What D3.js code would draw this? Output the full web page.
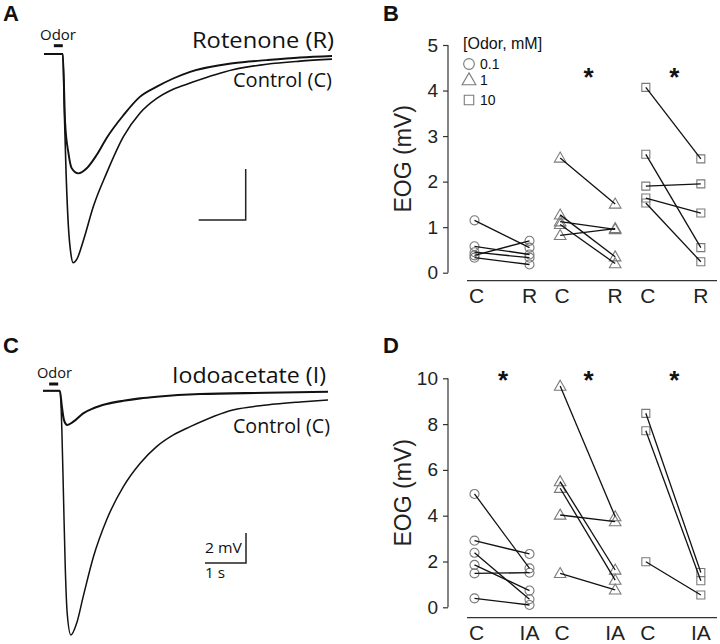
<!DOCTYPE html>
<html><head><meta charset="utf-8">
<script src="https://cdn.jsdelivr.net/npm/d3@7"></script>
<style>body{margin:0;background:#fff}svg{display:block}</style>
</head><body>
<svg id="fig" width="720" height="644"></svg>
<script>
// ---------- DATA ----------
// Panel A traces: [time (s), EOG (mV)]
const traceA_control = [[0,0],[0.40,0],[0.43,-1.03],[0.47,-2.33],[0.52,-3.39],[0.57,-3.90],[0.62,-4.09],[0.70,-4.02],[0.84,-3.65],[1.05,-2.99],[1.33,-2.34],[1.69,-1.62],[2.04,-1.16],[2.40,-0.87],[2.75,-0.69],[3.11,-0.57],[4.02,-0.31],[4.74,-0.20],[5.45,-0.14],[6.13,-0.10]];
const traceA_rotenone = [[0,0],[0.40,0],[0.45,-1.35],[0.52,-1.94],[0.59,-2.24],[0.73,-2.34],[0.91,-2.24],[1.12,-1.98],[1.33,-1.65],[1.69,-1.20],[2.04,-0.84],[2.40,-0.64],[2.75,-0.48],[3.11,-0.35],[4.02,-0.18],[4.74,-0.12],[5.45,-0.07],[6.13,-0.04]];
// Panel C traces
const traceC_control = [[0,0],[0.41,0],[0.46,-2.62],[0.50,-7.07],[0.54,-11.51],[0.59,-14.84],[0.68,-16.29],[0.82,-15.51],[0.98,-13.73],[1.23,-11.07],[1.55,-8.62],[1.96,-6.40],[2.37,-4.84],[2.77,-3.73],[3.18,-2.95],[3.59,-2.40],[4.63,-1.29],[5.46,-0.95],[6.27,-0.75],[6.95,-0.62]];
const traceC_iodo = [[0,0],[0.41,0],[0.46,-1.07],[0.51,-1.95],[0.59,-2.29],[0.74,-2.07],[0.98,-1.51],[1.23,-1.17],[1.55,-0.89],[1.96,-0.67],[2.37,-0.51],[2.77,-0.40],[3.83,-0.22],[5.46,-0.14],[6.95,-0.07]];
const odorA = [0.21, 0.40];
const odorC = [0.15, 0.37];

// Panel B: paired EOG (mV), control vs rotenone, per odor concentration
const concentrations = ["0.1", "1", "10"];
const B_control  = [[1.15,0.58,0.45,0.38,0.33],[2.52,1.27,1.12,1.06,0.82],[4.07,2.6,1.9,1.64,1.53]];
const B_rotenone = [[0.55,0.40,0.33,0.70,0.18],[1.51,0.35,0.95,0.20,0.97],[2.50,0.55,1.95,1.31,0.24]];
const B_ticks = [0,1,2,3,4,5];
const B_labels = ["C","R"];
const B_sig = [false,true,true];

// Panel D: paired EOG (mV), control vs iodoacetate
const D_control = [[4.95,2.91,2.38,1.85,1.48,0.39],[9.66,5.49,5.2,4.03,1.48],[8.47,7.71,1.99]];
const D_iodo    = [[1.70,2.33,0.35,0.73,1.51,0.10],[3.96,1.63,1.19,3.74,0.76],[1.52,1.16,0.54]];
const D_ticks = [0,2,4,6,8,10];
const D_labels = ["C","IA"];
const D_sig = [true,true,true];

// ---------- DRAW ----------
const svg = d3.select("#fig");
const sansC = "'Open Sans', 'Noto Sans', sans-serif";
const arial = "'Liberation Sans', Arial, sans-serif";

function label(t, x, y, size, opts = {}) {
  const el = svg.append("text").attr("x", x).attr("y", y).text(t)
    .attr("font-family", opts.font || sansC).attr("font-size", size)
    .attr("fill", "#111");
  if (opts.weight) el.attr("font-weight", opts.weight);
  if (opts.anchor) el.attr("text-anchor", opts.anchor);
  if (opts.len) el.attr("textLength", opts.len).attr("lengthAdjust", "spacingAndGlyphs");
  return el;
}

// panel letters
label("A", 3, 21, 22, {font: arial, weight: "bold"});
label("B", 383, 21, 22, {font: arial, weight: "bold"});
label("C", 3, 353, 22, {font: arial, weight: "bold"});
label("D", 383, 353, 22, {font: arial, weight: "bold"});

function tracePanel(cfg) {
  const x = d3.scaleLinear().domain(cfg.xDomain).range(cfg.xRange);
  const y = d3.scaleLinear().domain(cfg.yDomain).range(cfg.yRange);
  const line = d3.line().x(d => x(d[0])).y(d => y(d[1])).curve(d3.curveMonotoneX);
  cfg.traces.forEach(tr => {
    svg.append("path").datum(tr.data).attr("d", line)
      .attr("fill", "none").attr("stroke", "#111").attr("stroke-width", tr.w)
      .attr("stroke-linejoin", "round");
  });
  // odor bar
  svg.append("line").attr("x1", x(cfg.odor[0])).attr("x2", x(cfg.odor[1]))
    .attr("y1", cfg.odorY).attr("y2", cfg.odorY)
    .attr("stroke", "#111").attr("stroke-width", 3);
  // scale bar
  const sb = cfg.scaleBar;
  const dx = x(sb.s) - x(0), dy = y(-sb.mv) - y(0);
  svg.append("path")
    .attr("d", `M${sb.x - dx},${sb.y}H${sb.x}V${sb.y - dy}`)
    .attr("fill", "none").attr("stroke", "#222").attr("stroke-width", 1.5);
  return {x, y};
}

tracePanel({
  xDomain: [0, 6.13], xRange: [44, 332],
  yDomain: [0, -4.09], yRange: [54, 262.7],
  traces: [{data: traceA_control, w: 1.6}, {data: traceA_rotenone, w: 1.9}],
  odor: odorA, odorY: 45.7,
  scaleBar: {x: 245.7, y: 220, s: 1, mv: 1}
});
label("Odor", 40, 40, 15, {len: 36});
label("Rotenone (R)", 192, 48, 21, {len: 142});
label("Control (C)", 233, 87, 20, {len: 99});

tracePanel({
  xDomain: [0, 6.95], xRange: [43, 328],
  yDomain: [0, -16.29], yRange: [390.7, 635],
  traces: [{data: traceC_control, w: 1.5}, {data: traceC_iodo, w: 2.1}],
  odor: odorC, odorY: 384,
  scaleBar: {x: 246, y: 563, s: 1, mv: 2}
});
label("Odor", 37, 378, 15, {len: 35});
label("Iodoacetate (I)", 172, 383, 22, {len: 154});
label("Control (C)", 233, 433, 20, {len: 97});
label("2 mV", 205, 553, 15, {len: 37});
label("1 s", 205, 578, 15, {len: 20});

const markerColor = "#7a7a7a";
const symbols = [d3.symbolCircle, d3.symbolTriangle, d3.symbolSquare];
const symSizes = [64, 58, 64];

function drawSymbol(g, i, cx, cy, scale = 1) {
  g.append("path")
    .attr("d", d3.symbol().type(symbols[i]).size(symSizes[i] * scale)())
    .attr("transform", `translate(${cx},${cy + (i === 1 ? 0.8 : 0)})`)
    .attr("fill", "none").attr("stroke", markerColor).attr("stroke-width", 1.1);
}

function pairedPanel(cfg) {
  const g = svg.append("g");
  const y = d3.scaleLinear().domain(cfg.yDomain).range(cfg.yRange);
  const band = d3.scaleBand().domain(concentrations).range([462, 719]).paddingInner(0);
  const pos = (gi, k) => band(concentrations[gi]) + (k === 0 ? 12.5 : 67.5);

  // y axis
  const ax = g.append("g").attr("transform", `translate(448,0)`)
    .call(d3.axisLeft(y).tickValues(cfg.ticks).tickFormat(d3.format("d"))
      .tickSize(5).tickSizeOuter(0).tickPadding(5));
  ax.select(".domain").attr("stroke", "#333").attr("stroke-width", 1.2)
    .attr("d", `M0,${y(cfg.yDomain[0])}V${y(cfg.yDomain[1])}`);
  ax.selectAll(".tick line").attr("stroke", "#333").attr("stroke-width", 1.2);
  ax.selectAll(".tick text").attr("font-family", arial).attr("font-size", 19).attr("fill", "#222");

  // y label
  const yc = (y(cfg.yDomain[0]) + y(cfg.yDomain[1])) / 2 + cfg.labelShift;
  g.append("text").attr("transform", `translate(411,${yc}) rotate(-90)`)
    .attr("text-anchor", "middle").attr("font-family", arial).attr("font-size", 23)
    .attr("fill", "#222").text("EOG (mV)");

  // bottom line + category labels
  g.append("line").attr("x1", 467).attr("x2", 717).attr("y1", cfg.baseY).attr("y2", cfg.baseY)
    .attr("stroke", "#333").attr("stroke-width", 1.2);
  concentrations.forEach((c, gi) => {
    [0, 1].forEach(k => {
      g.append("text").attr("x", pos(gi, k) + (k === 0 ? 2 : 0)).attr("y", cfg.baseY + 22)
        .attr("text-anchor", "middle").attr("font-family", arial).attr("font-size", 21)
        .attr("fill", "#222").text(cfg.labels[k]);
    });
  });

  // markers then pairing lines
  concentrations.forEach((c, gi) => {
    cfg.ctrl[gi].forEach((v, j) => {
      drawSymbol(g, gi, pos(gi, 0), y(v));
      drawSymbol(g, gi, pos(gi, 1), y(cfg.treat[gi][j]));
    });
    cfg.ctrl[gi].forEach((v, j) => {
      g.append("line").attr("x1", pos(gi, 0)).attr("y1", y(v))
        .attr("x2", pos(gi, 1)).attr("y2", y(cfg.treat[gi][j]))
        .attr("stroke", "#111").attr("stroke-width", 1.3);
    });
    if (cfg.sig[gi]) {
      g.append("text").attr("x", (pos(gi, 0) + pos(gi, 1)) / 2 + 1).attr("y", cfg.starY)
        .attr("text-anchor", "middle").attr("font-family", arial).attr("font-weight", "bold")
        .attr("font-size", 26).attr("fill", "#111").text("*");
    }
  });
  return g;
}

pairedPanel({
  yDomain: [0, 5], yRange: [272.7, 45], ticks: B_ticks,
  ctrl: B_control, treat: B_rotenone, labels: B_labels, sig: B_sig,
  baseY: 280.7, starY: 86, labelShift: 0
});
pairedPanel({
  yDomain: [0, 10], yRange: [607.3, 378.3], ticks: D_ticks,
  ctrl: D_control, treat: D_iodo, labels: D_labels, sig: D_sig,
  baseY: 617.7, starY: 389, labelShift: 0
});

// legend in B
label("[Odor, mM]", 463, 49, 16, {font: arial});
concentrations.forEach((c, i) => {
  const cy = [64, 80, 100][i];
  drawSymbol(svg, i, 469, cy, 1.4);
  label(c, 480, cy + 5, 14, {font: arial});
});
</script>
</body></html>
